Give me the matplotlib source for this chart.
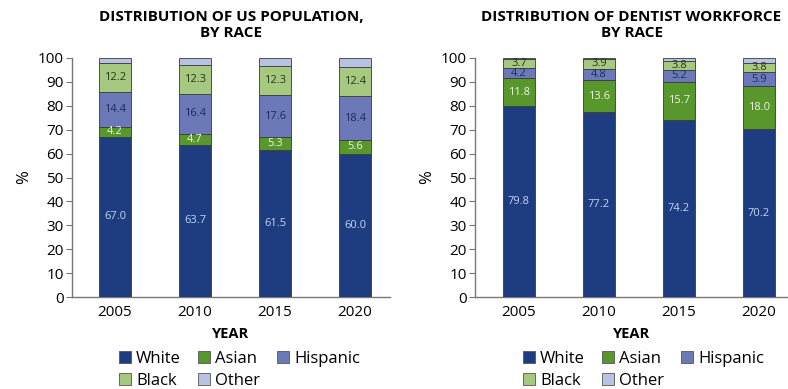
import matplotlib
matplotlib.use("Agg")
import matplotlib.pyplot as plt
from matplotlib.patches import Patch
import numpy as np

plt.rcParams['font.family'] = ['Open Sans', 'DejaVu Sans']

years = ["2005", "2010", "2015", "2020"]
categories = ["White", "Asian", "Hispanic", "Black", "Other"]

us_white = [67.0, 63.7, 61.5, 60.0]
us_asian = [4.2, 4.7, 5.3, 5.6]
us_hispanic = [14.4, 16.4, 17.6, 18.4]
us_black = [12.2, 12.3, 12.3, 12.4]
us_other = [2.2, 2.9, 3.3, 3.6]

dent_white = [79.8, 77.2, 74.2, 70.2]
dent_asian = [11.8, 13.6, 15.7, 18.0]
dent_hispanic = [4.2, 4.8, 5.2, 5.9]
dent_black = [3.7, 3.9, 3.8, 3.8]
dent_other = [0.5, 0.5, 1.1, 2.1]

colors = ["#1e3c80", "#57972b", "#6b79b9", "#a7c87f", "#b9c2e3"]
label_colors = ["#c5d3f2", "#eef4e6", "#1d2c5e", "#27361e", None]

fig = plt.figure(figsize=(7.88, 3.89), dpi=100)

def draw(ax, series, title, xlim):
    x = np.arange(len(years))
    bottom = np.zeros(len(years))
    for i, vals in enumerate(series):
        vals = np.array(vals)
        ax.bar(x, vals, 0.4, bottom=bottom, color=colors[i],
               edgecolor="#3a3a3a", linewidth=0.6, zorder=3)
        if label_colors[i] is not None:
            for xi, b, v in zip(x, bottom, vals):
                ax.text(xi, b + v / 2, f"{v:.1f}", ha="center", va="center",
                        fontsize=8, color=label_colors[i], zorder=4)
        bottom += vals
    ax.set_xlim(*xlim)
    ax.set_ylim(0, 100)
    ax.set_yticks(range(0, 101, 10))
    ax.set_xticks(x)
    ax.set_xticklabels(years)
    for s in ["top", "right"]:
        ax.spines[s].set_visible(False)
    for s in ["left", "bottom"]:
        ax.spines[s].set_color("#777777")
        ax.spines[s].set_linewidth(1.0)
    ax.tick_params(axis="y", length=4, color="#777777", labelsize=11, pad=2)
    ax.tick_params(axis="x", length=0, labelsize=11, pad=6)
    ax.set_xlabel("YEAR", fontsize=10.5, fontweight="bold", labelpad=5)
    ax.set_title(title, fontsize=11, fontweight="bold", pad=15, linespacing=1.2)
    ax.set_ylabel("%", fontsize=12, labelpad=4)
    handles = [Patch(facecolor=c, edgecolor="#555555", linewidth=0.6) for c in colors]
    order = [0, 3, 1, 4, 2]
    leg = ax.legend([handles[k] for k in order], [categories[k] for k in order],
                    ncol=3, loc="upper left", frameon=False, fontsize=12,
                    handlelength=0.75, handleheight=0.75, handletextpad=0.3,
                    columnspacing=1.0, labelspacing=0.38, borderaxespad=0,
                    bbox_to_anchor=(0, 0))
    return leg

ax1 = fig.add_axes([0.0914, 0.2365, 0.4036, 0.6144])
leg1 = draw(ax1, [us_white, us_asian, us_hispanic, us_black, us_other],
            "DISTRIBUTION OF US POPULATION,\nBY RACE", (-0.5375, 3.4375))
leg1.set_bbox_to_anchor((112 / 788, 1 - 344 / 389), transform=fig.transFigure)

ax2 = fig.add_axes([0.6028, 0.2365, 0.3972, 0.6144])
leg2 = draw(ax2, [dent_white, dent_asian, dent_hispanic, dent_black, dent_other],
            "DISTRIBUTION OF DENTIST WORKFORCE\nBY RACE", (-0.55, 3.3625))
leg2.set_bbox_to_anchor((516 / 788, 1 - 344 / 389), transform=fig.transFigure)

fig.savefig("out.png", dpi=100)
